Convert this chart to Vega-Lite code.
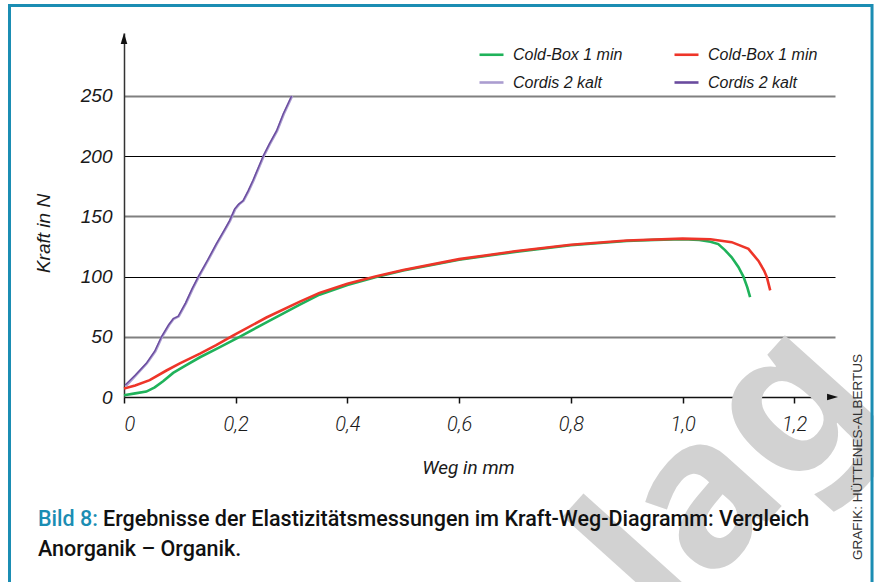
{
  "$schema": "https://vega.github.io/schema/vega-lite/v6.json",
  "width": 711,
  "height": 364,
  "autosize": {"type": "none"},
  "padding": {"left": 124, "top": 33, "right": 39, "bottom": 185},
  "background": "white",
  "config": {"view": {"stroke": null}, "font": "Liberation Sans"},
  "datasets": {
    "curves": [
      {"s": "Cold-Box 1 min|a", "x": 0, "y": 1.5},
      {"s": "Cold-Box 1 min|a", "x": 0.02, "y": 3},
      {"s": "Cold-Box 1 min|a", "x": 0.04, "y": 4.5},
      {"s": "Cold-Box 1 min|a", "x": 0.055, "y": 8},
      {"s": "Cold-Box 1 min|a", "x": 0.07, "y": 13},
      {"s": "Cold-Box 1 min|a", "x": 0.088, "y": 20},
      {"s": "Cold-Box 1 min|a", "x": 0.11, "y": 26},
      {"s": "Cold-Box 1 min|a", "x": 0.136, "y": 33},
      {"s": "Cold-Box 1 min|a", "x": 0.17, "y": 41},
      {"s": "Cold-Box 1 min|a", "x": 0.207, "y": 50},
      {"s": "Cold-Box 1 min|a", "x": 0.255, "y": 62},
      {"s": "Cold-Box 1 min|a", "x": 0.314, "y": 76.5},
      {"s": "Cold-Box 1 min|a", "x": 0.35, "y": 85},
      {"s": "Cold-Box 1 min|a", "x": 0.4, "y": 93},
      {"s": "Cold-Box 1 min|a", "x": 0.45, "y": 99.5},
      {"s": "Cold-Box 1 min|a", "x": 0.5, "y": 105},
      {"s": "Cold-Box 1 min|a", "x": 0.6, "y": 114},
      {"s": "Cold-Box 1 min|a", "x": 0.7, "y": 120.5},
      {"s": "Cold-Box 1 min|a", "x": 0.8, "y": 126},
      {"s": "Cold-Box 1 min|a", "x": 0.9, "y": 129.5},
      {"s": "Cold-Box 1 min|a", "x": 0.95, "y": 130.5},
      {"s": "Cold-Box 1 min|a", "x": 1.0, "y": 131},
      {"s": "Cold-Box 1 min|a", "x": 1.03, "y": 130.5},
      {"s": "Cold-Box 1 min|a", "x": 1.05, "y": 129},
      {"s": "Cold-Box 1 min|a", "x": 1.064, "y": 127},
      {"s": "Cold-Box 1 min|a", "x": 1.076, "y": 122},
      {"s": "Cold-Box 1 min|a", "x": 1.088, "y": 116},
      {"s": "Cold-Box 1 min|a", "x": 1.1, "y": 108},
      {"s": "Cold-Box 1 min|a", "x": 1.109, "y": 100},
      {"s": "Cold-Box 1 min|a", "x": 1.116, "y": 91},
      {"s": "Cold-Box 1 min|a", "x": 1.121, "y": 83},
      {"s": "Cold-Box 1 min|b", "x": 0, "y": 7},
      {"s": "Cold-Box 1 min|b", "x": 0.02, "y": 9.5},
      {"s": "Cold-Box 1 min|b", "x": 0.046, "y": 14},
      {"s": "Cold-Box 1 min|b", "x": 0.076, "y": 22},
      {"s": "Cold-Box 1 min|b", "x": 0.1, "y": 28},
      {"s": "Cold-Box 1 min|b", "x": 0.136, "y": 36},
      {"s": "Cold-Box 1 min|b", "x": 0.165, "y": 43},
      {"s": "Cold-Box 1 min|b", "x": 0.195, "y": 51},
      {"s": "Cold-Box 1 min|b", "x": 0.255, "y": 66},
      {"s": "Cold-Box 1 min|b", "x": 0.314, "y": 79},
      {"s": "Cold-Box 1 min|b", "x": 0.35, "y": 86.5},
      {"s": "Cold-Box 1 min|b", "x": 0.4, "y": 94},
      {"s": "Cold-Box 1 min|b", "x": 0.45, "y": 100},
      {"s": "Cold-Box 1 min|b", "x": 0.5, "y": 105.5},
      {"s": "Cold-Box 1 min|b", "x": 0.6, "y": 114.5},
      {"s": "Cold-Box 1 min|b", "x": 0.7, "y": 121},
      {"s": "Cold-Box 1 min|b", "x": 0.8, "y": 126.5},
      {"s": "Cold-Box 1 min|b", "x": 0.9, "y": 130},
      {"s": "Cold-Box 1 min|b", "x": 1.0, "y": 131.5},
      {"s": "Cold-Box 1 min|b", "x": 1.05, "y": 131},
      {"s": "Cold-Box 1 min|b", "x": 1.088, "y": 128.6},
      {"s": "Cold-Box 1 min|b", "x": 1.118, "y": 123},
      {"s": "Cold-Box 1 min|b", "x": 1.136, "y": 113},
      {"s": "Cold-Box 1 min|b", "x": 1.146, "y": 105},
      {"s": "Cold-Box 1 min|b", "x": 1.151, "y": 99.6},
      {"s": "Cold-Box 1 min|b", "x": 1.157, "y": 88.6},
      {"s": "Cordis 2 kalt|a", "x": 0.003, "y": 9},
      {"s": "Cordis 2 kalt|a", "x": 0.021, "y": 18},
      {"s": "Cordis 2 kalt|a", "x": 0.041, "y": 28},
      {"s": "Cordis 2 kalt|a", "x": 0.056, "y": 38},
      {"s": "Cordis 2 kalt|a", "x": 0.068, "y": 50},
      {"s": "Cordis 2 kalt|a", "x": 0.081, "y": 60},
      {"s": "Cordis 2 kalt|a", "x": 0.089, "y": 65},
      {"s": "Cordis 2 kalt|a", "x": 0.098, "y": 67},
      {"s": "Cordis 2 kalt|a", "x": 0.111, "y": 78},
      {"s": "Cordis 2 kalt|a", "x": 0.123, "y": 90},
      {"s": "Cordis 2 kalt|a", "x": 0.134, "y": 100},
      {"s": "Cordis 2 kalt|a", "x": 0.151, "y": 114},
      {"s": "Cordis 2 kalt|a", "x": 0.166, "y": 127},
      {"s": "Cordis 2 kalt|a", "x": 0.181, "y": 139},
      {"s": "Cordis 2 kalt|a", "x": 0.19, "y": 146.5},
      {"s": "Cordis 2 kalt|a", "x": 0.199, "y": 156},
      {"s": "Cordis 2 kalt|a", "x": 0.206, "y": 160},
      {"s": "Cordis 2 kalt|a", "x": 0.214, "y": 163},
      {"s": "Cordis 2 kalt|a", "x": 0.223, "y": 171},
      {"s": "Cordis 2 kalt|a", "x": 0.232, "y": 180},
      {"s": "Cordis 2 kalt|a", "x": 0.241, "y": 190},
      {"s": "Cordis 2 kalt|a", "x": 0.25, "y": 200},
      {"s": "Cordis 2 kalt|a", "x": 0.261, "y": 210},
      {"s": "Cordis 2 kalt|a", "x": 0.274, "y": 221},
      {"s": "Cordis 2 kalt|a", "x": 0.286, "y": 235},
      {"s": "Cordis 2 kalt|a", "x": 0.296, "y": 245},
      {"s": "Cordis 2 kalt|a", "x": 0.301, "y": 250},
      {"s": "Cordis 2 kalt|b", "x": 0.002, "y": 10},
      {"s": "Cordis 2 kalt|b", "x": 0.02, "y": 18},
      {"s": "Cordis 2 kalt|b", "x": 0.04, "y": 28},
      {"s": "Cordis 2 kalt|b", "x": 0.055, "y": 38},
      {"s": "Cordis 2 kalt|b", "x": 0.067, "y": 50},
      {"s": "Cordis 2 kalt|b", "x": 0.08, "y": 60},
      {"s": "Cordis 2 kalt|b", "x": 0.088, "y": 65},
      {"s": "Cordis 2 kalt|b", "x": 0.097, "y": 67},
      {"s": "Cordis 2 kalt|b", "x": 0.11, "y": 78},
      {"s": "Cordis 2 kalt|b", "x": 0.122, "y": 90},
      {"s": "Cordis 2 kalt|b", "x": 0.133, "y": 100},
      {"s": "Cordis 2 kalt|b", "x": 0.15, "y": 114},
      {"s": "Cordis 2 kalt|b", "x": 0.165, "y": 127},
      {"s": "Cordis 2 kalt|b", "x": 0.18, "y": 139},
      {"s": "Cordis 2 kalt|b", "x": 0.189, "y": 146.5},
      {"s": "Cordis 2 kalt|b", "x": 0.198, "y": 156},
      {"s": "Cordis 2 kalt|b", "x": 0.205, "y": 160},
      {"s": "Cordis 2 kalt|b", "x": 0.213, "y": 163},
      {"s": "Cordis 2 kalt|b", "x": 0.222, "y": 171},
      {"s": "Cordis 2 kalt|b", "x": 0.231, "y": 180},
      {"s": "Cordis 2 kalt|b", "x": 0.24, "y": 190},
      {"s": "Cordis 2 kalt|b", "x": 0.249, "y": 200},
      {"s": "Cordis 2 kalt|b", "x": 0.26, "y": 210},
      {"s": "Cordis 2 kalt|b", "x": 0.273, "y": 221},
      {"s": "Cordis 2 kalt|b", "x": 0.285, "y": 235},
      {"s": "Cordis 2 kalt|b", "x": 0.295, "y": 245},
      {"s": "Cordis 2 kalt|b", "x": 0.3, "y": 250}
    ]
  },
  "layer": [
    {
      "data": {"values": [{}]},
      "mark": {"type": "text", "text": "lag", "font": "Noto Sans", "fontWeight": "bold", "fontSize": 205, "color": "#d2d2d2", "angle": 312, "align": "center", "baseline": "middle"},
      "encoding": {
        "x": {"datum": 1.08, "type": "quantitative", "scale": {"domain": [0, 1.273], "nice": false, "zero": false}},
        "y": {"datum": -64, "type": "quantitative", "scale": {"domain": [0, 302.3], "nice": false, "zero": false}}
      }
    },
    {
      "data": {"name": "curves"},
      "transform": [{"filter": "datum.s !== 'Cordis 2 kalt|b'"}],
      "mark": {"type": "line", "strokeWidth": 2.6, "interpolate": "linear"},
      "encoding": {
        "x": {
          "field": "x", "type": "quantitative",
          "scale": {"domain": [0, 1.273], "nice": false, "zero": false},
          "axis": {
            "values": [0, 0.2, 0.4, 0.6, 0.8, 1.0, 1.2],
            "labelExpr": "datum.value === 0 ? '0' : replace(format(datum.value, '.1f'), '.', ',')",
            "title": "Weg in mm",
            "titleFont": "Roboto",
            "titleFontStyle": "italic",
            "titleFontWeight": "normal",
            "titleFontSize": 19,
            "titleColor": "#1a1a1a",
            "titleX": 344,
            "titleY": 70,
            "titleAlign": "center",
            "titleBaseline": "middle",
            "labelFont": "Roboto",
            "labelFontStyle": "italic",
            "labelFontWeight": 300,
            "labelFontSize": 20,
            "labelColor": "#1a1a1a",
            "labelPadding": 11,
            "labelBaseline": "top",
            "ticks": true,
            "tickSize": 6,
            "tickColor": "#111",
            "tickWidth": 1.5,
            "domainColor": "#111",
            "domainWidth": 1.5,
            "grid": false
          }
        },
        "y": {
          "field": "y", "type": "quantitative",
          "scale": {"domain": [0, 302.3], "nice": false, "zero": false},
          "axis": {
            "values": [0, 50, 100, 150, 200, 250],
            "title": "Kraft in N",
            "titleFont": "Liberation Sans",
            "titleFontStyle": "italic",
            "titleFontWeight": "normal",
            "titleFontSize": 19,
            "titleColor": "#1a1a1a",
            "titleX": -81,
            "titleY": 200,
            "titleAlign": "center",
            "titleBaseline": "middle",
            "titleAngle": 270,
            "labelFont": "Liberation Sans",
            "labelFontStyle": "italic",
            "labelFontSize": 19,
            "labelColor": "#1a1a1a",
            "labelPadding": 12,
            "ticks": false,
            "domainColor": "#333",
            "domainWidth": 1.5,
            "grid": true,
            "gridColor": {"condition": {"test": "datum.value % 100 === 0", "value": "#000000"}, "value": "#808080"},
            "gridWidth": {"condition": {"test": "datum.value % 100 === 0", "value": 1.2}, "value": 1.8}
          }
        },
        "color": {
          "field": "s", "type": "nominal",
          "scale": {
            "domain": ["Cold-Box 1 min|a", "Cold-Box 1 min|b", "Cordis 2 kalt|a", "Cordis 2 kalt|b"],
            "range": ["#1fb25a", "#ee3529", "#ab9dd0", "#6a4b9e"]
          },
          "legend": {
            "orient": "none",
            "legendX": 354,
            "legendY": 8,
            "direction": "horizontal",
            "columns": 2,
            "columnPadding": 46,
            "rowPadding": 6,
            "title": null,
            "symbolType": "stroke",
            "symbolSize": 576,
            "symbolStrokeWidth": 2.6,
            "labelOffset": 8,
            "labelFont": "Liberation Sans",
            "labelFontStyle": "italic",
            "labelFontSize": 16,
            "labelColor": "#1a1a1a",
            "labelLimit": 200,
            "labelExpr": "split(datum.label, '|')[0]"
          }
        }
      }
    },
    {
      "data": {"name": "curves"},
      "transform": [{"filter": "datum.s === 'Cordis 2 kalt|b'"}],
      "mark": {"type": "line", "strokeWidth": 1.4, "interpolate": "linear"},
      "encoding": {
        "x": {"field": "x", "type": "quantitative", "scale": {"domain": [0, 1.273], "nice": false, "zero": false}},
        "y": {"field": "y", "type": "quantitative", "scale": {"domain": [0, 302.3], "nice": false, "zero": false}},
        "color": {"field": "s", "type": "nominal"}
      }
    },
    {
      "data": {"values": [{}]},
      "mark": {"type": "point", "shape": "M0,-1L0.6,1L-0.6,1Z", "filled": true, "color": "#111", "size": 121, "opacity": 1},
      "encoding": {
        "x": {"datum": 0, "type": "quantitative", "scale": {"domain": [0, 1.273], "nice": false, "zero": false}},
        "y": {"datum": 297.8, "type": "quantitative", "scale": {"domain": [0, 302.3], "nice": false, "zero": false}}
      }
    },
    {
      "data": {"values": [{}]},
      "mark": {"type": "point", "shape": "M1,0L-1,0.6L-1,-0.6Z", "filled": true, "color": "#111", "size": 121, "opacity": 1},
      "encoding": {
        "x": {"datum": 1.2686, "type": "quantitative", "scale": {"domain": [0, 1.273], "nice": false, "zero": false}},
        "y": {"datum": 0, "type": "quantitative", "scale": {"domain": [0, 302.3], "nice": false, "zero": false}}
      }
    },
    {
      "data": {"values": [{}]},
      "mark": {"type": "rect", "fill": null, "stroke": "#1b8db3", "strokeWidth": 3},
      "encoding": {
        "x": {"datum": -0.205, "type": "quantitative", "scale": {"domain": [0, 1.273], "nice": false, "zero": false}},
        "x2": {"datum": 1.3393},
        "y": {"datum": 325.2, "type": "quantitative", "scale": {"domain": [0, 302.3], "nice": false, "zero": false}},
        "y2": {"datum": -170}
      }
    },
    {
      "data": {"values": [{}]},
      "mark": {"type": "text", "text": "Bild 8:", "font": "Roboto", "fontWeight": 500, "fontSize": 21.5, "color": "#1b8db3", "align": "left", "baseline": "middle"},
      "encoding": {
        "x": {"datum": -0.154, "type": "quantitative", "scale": {"domain": [0, 1.273], "nice": false, "zero": false}},
        "y": {"datum": -102.2, "type": "quantitative", "scale": {"domain": [0, 302.3], "nice": false, "zero": false}}
      }
    },
    {
      "data": {"values": [{}]},
      "mark": {"type": "text", "text": "Ergebnisse der Elastizitätsmessungen im Kraft-Weg-Diagramm: Vergleich", "font": "Roboto", "fontWeight": 500, "fontSize": 21.5, "color": "#111", "align": "left", "baseline": "middle"},
      "encoding": {
        "x": {"datum": -0.0376, "type": "quantitative", "scale": {"domain": [0, 1.273], "nice": false, "zero": false}},
        "y": {"datum": -102.2, "type": "quantitative", "scale": {"domain": [0, 302.3], "nice": false, "zero": false}}
      }
    },
    {
      "data": {"values": [{}]},
      "mark": {"type": "text", "text": "Anorganik – Organik.", "font": "Roboto", "fontWeight": 500, "fontSize": 21.5, "color": "#111", "align": "left", "baseline": "middle"},
      "encoding": {
        "x": {"datum": -0.154, "type": "quantitative", "scale": {"domain": [0, 1.273], "nice": false, "zero": false}},
        "y": {"datum": -127.1, "type": "quantitative", "scale": {"domain": [0, 302.3], "nice": false, "zero": false}}
      }
    },
    {
      "data": {"values": [{}]},
      "mark": {"type": "text", "text": "GRAFIK: HÜTTENES-ALBERTUS", "font": "Liberation Sans", "fontSize": 13.5, "color": "#333", "align": "center", "baseline": "middle", "angle": 270},
      "encoding": {
        "x": {"datum": 1.3142, "type": "quantitative", "scale": {"domain": [0, 1.273], "nice": false, "zero": false}},
        "y": {"datum": -49.8, "type": "quantitative", "scale": {"domain": [0, 302.3], "nice": false, "zero": false}}
      }
    }
  ]
}
